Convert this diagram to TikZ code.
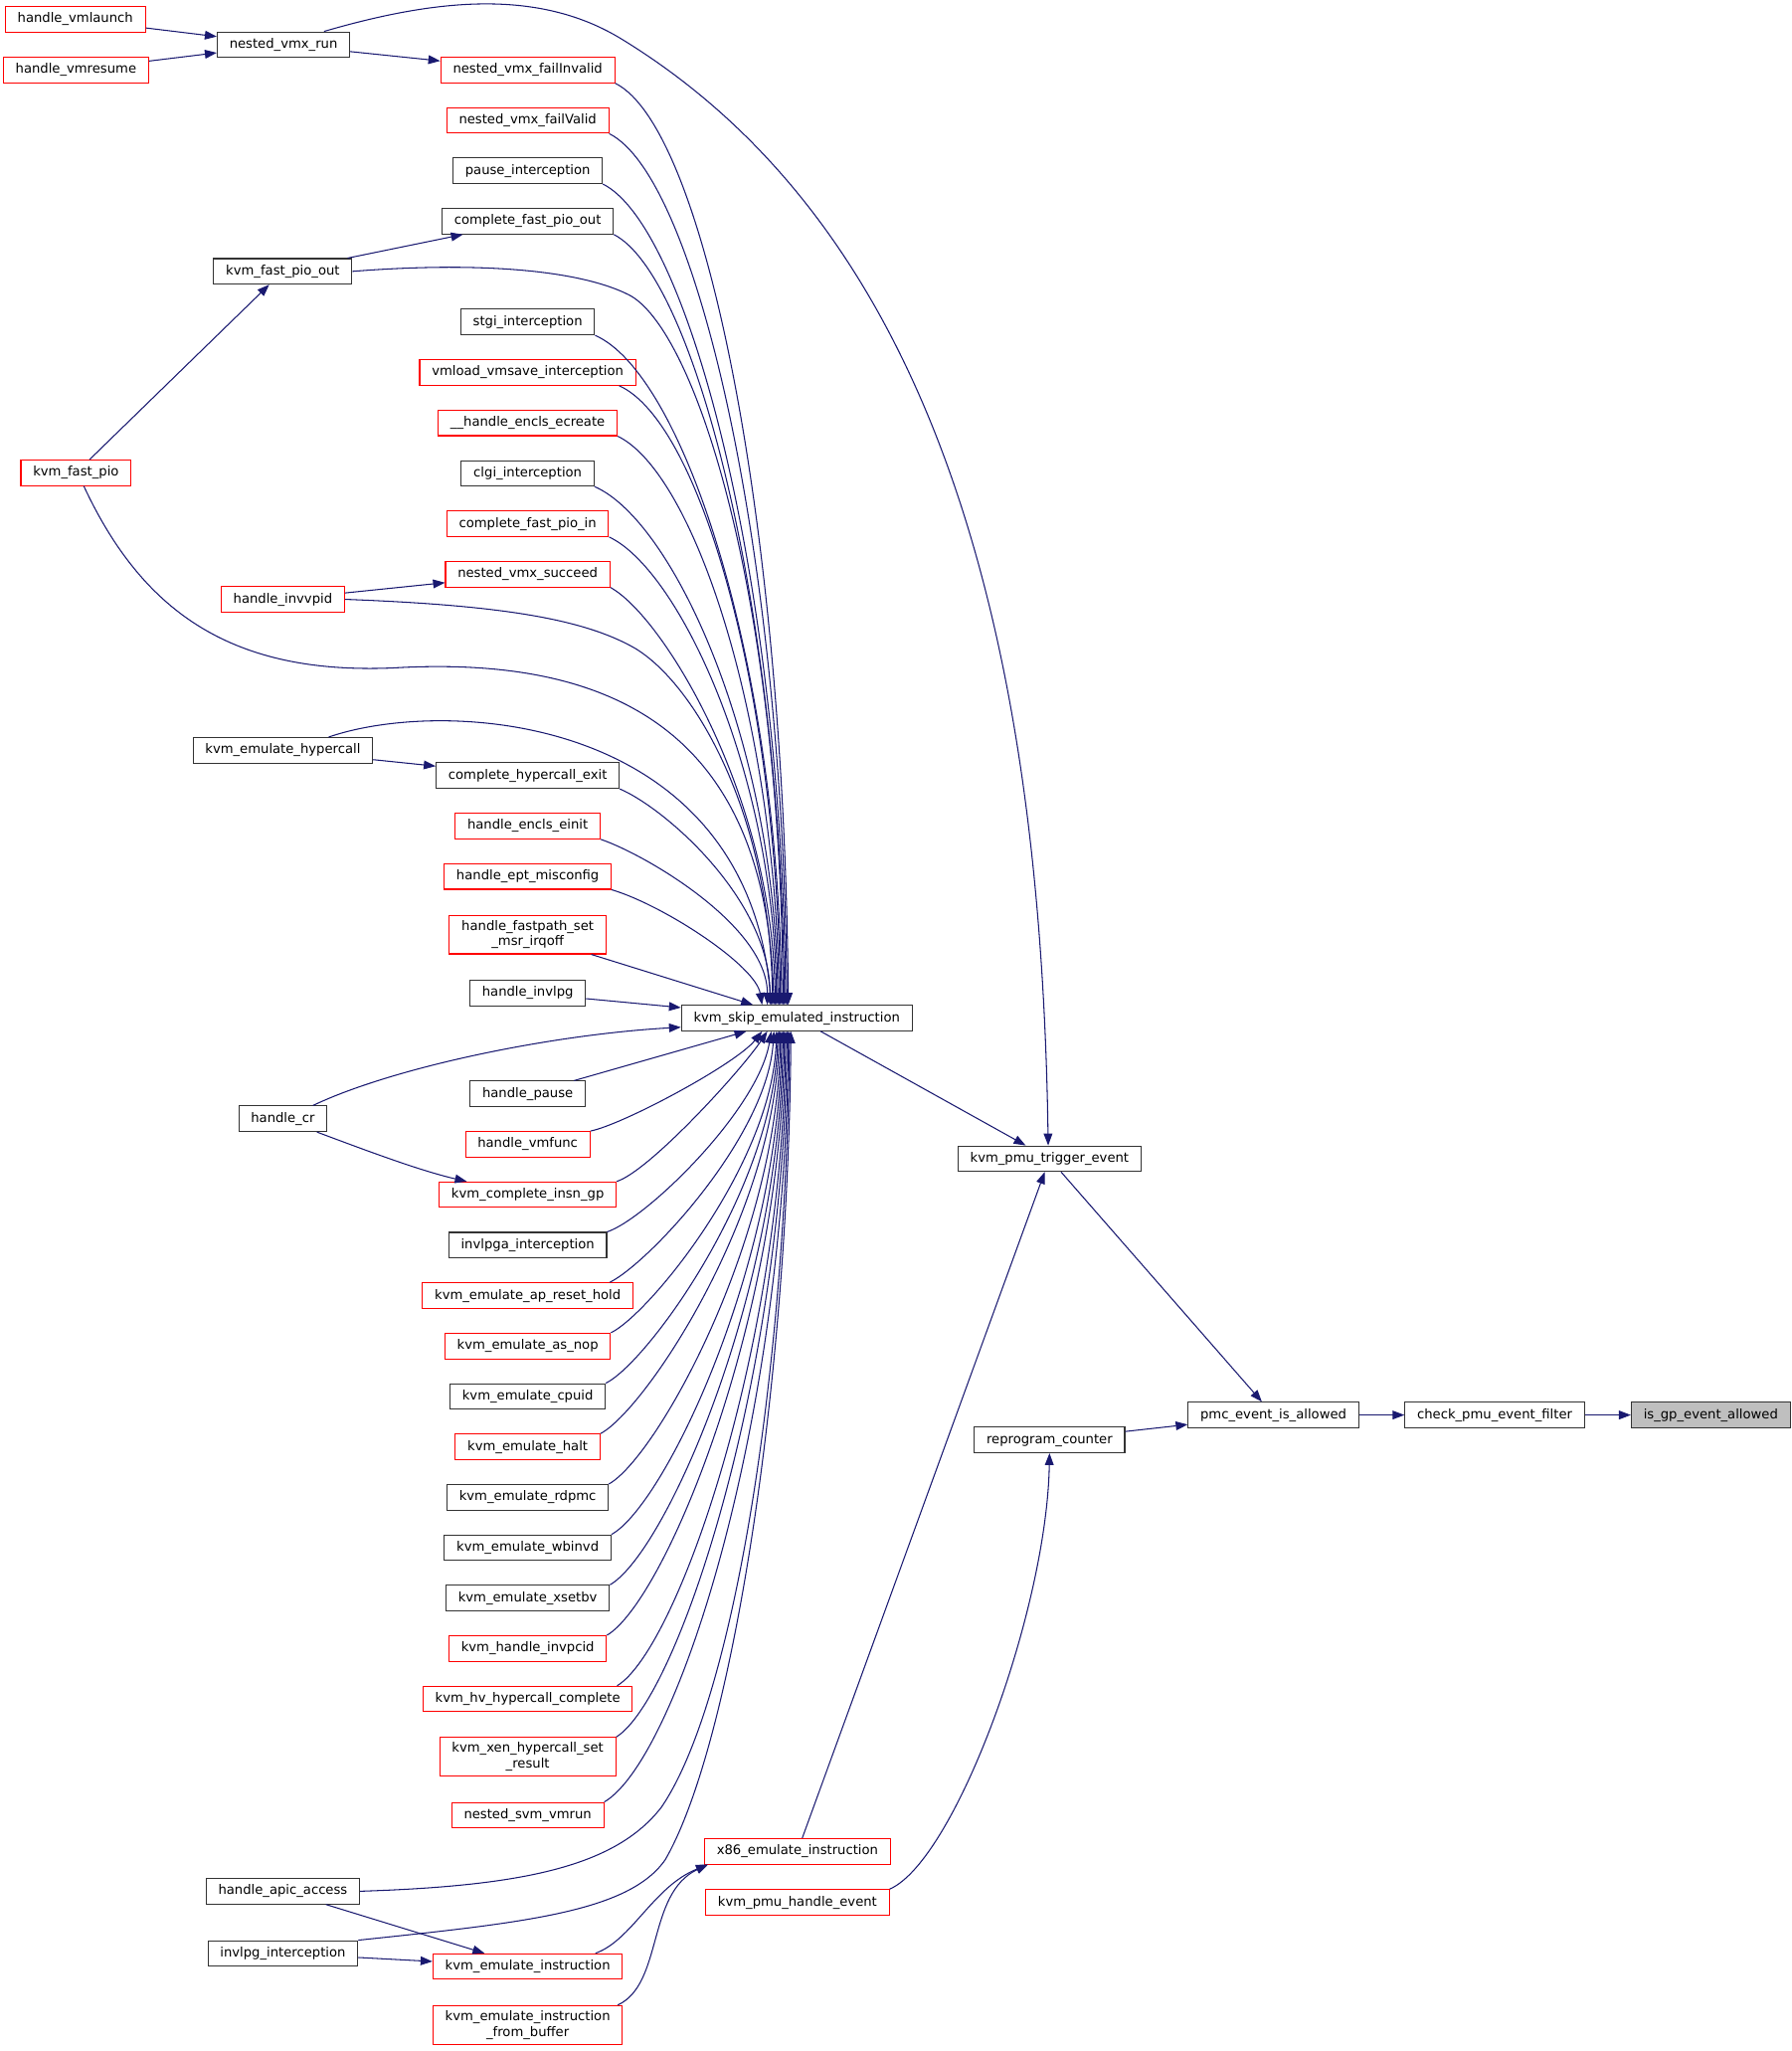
\documentclass[tikz,border=0pt]{standalone}
\usepackage{fontspec}
\setmainfont{DejaVu Sans}
\usetikzlibrary{arrows.meta,positioning,calc}
\definecolor{midnightblue}{rgb}{0.098, 0.098, 0.439}
\definecolor{rootgray}{rgb}{0.75, 0.75, 0.75}
\definecolor{darkborder}{rgb}{0.2, 0.2, 0.2}

\begin{document}
\begin{tikzpicture}[x=0.75pt,y=-0.75pt,
    fbase/.style={draw=darkborder, line width=0.6pt, font=\fontsize{7.5}{9}\selectfont, inner xsep=7pt},
    fn/.style={fbase, minimum height=14.6pt, inner ysep=0pt, text height=5.6pt, text depth=1.6pt},
    fn2/.style={fbase, align=center, inner ysep=2.8pt},
    trunc/.style={draw=red},
    root/.style={fill=rootgray},
    call/.style={midnightblue, line width=0.6pt, -{Triangle[length=6.8pt,width=5pt]}}]
            \useasboundingbox (0,0) rectangle (1368,1566);
            %
            \node[fn, trunc] (a1) at (57.5,14.8) {handle\_vmlaunch};
            \node[fn, trunc] (a2) at (58,53.4) {handle\_vmresume};
            \node[fn, trunc] (a3) at (58,361) {kvm\_fast\_pio};

            %
            \node[fn] (b1) at (216.5,34.1) {nested\_vmx\_run};
            \node[fn] (b2) at (216,207.2) {kvm\_fast\_pio\_out};
            \node[fn, trunc] (b3) at (216,457.6) {handle\_invvpid};
            \node[fn] (b4) at (216,572.9) {kvm\_emulate\_hypercall};
            \node[fn] (b5) at (216,854.2) {handle\_cr};
            \node[fn] (b6) at (216,1444) {handle\_apic\_access};
            \node[fn] (b7) at (216,1491.5) {invlpg\_interception};

            %
            \node[fn, trunc] (c1) at (403,53.4) {nested\_vmx\_failInvalid};
            \node[fn, trunc] (c2) at (403,91.9) {nested\_vmx\_failValid};
            \node[fn] (c3) at (403,130.4) {pause\_interception};
            \node[fn] (c4) at (403,168.9) {complete\_fast\_pio\_out};
            \node[fn] (c5) at (403,245.9) {stgi\_interception};
            \node[fn, trunc] (c6) at (403,284.4) {vmload\_vmsave\_interception};
            \node[fn, trunc] (c7) at (403,322.9) {\_\_handle\_encls\_ecreate};
            \node[fn] (c8) at (403,361.4) {clgi\_interception};
            \node[fn, trunc] (c9) at (403,399.9) {complete\_fast\_pio\_in};
            \node[fn, trunc] (c10) at (403,438.4) {nested\_vmx\_succeed};
            \node[fn] (c11) at (403,592.2) {complete\_hypercall\_exit};
            \node[fn, trunc] (c12) at (403,630.7) {handle\_encls\_einit};
            \node[fn, trunc] (c13) at (403,669.2) {handle\_ept\_misconfig};
            \node[fn2, trunc] (c14) at (403,713.6) {handle\_fastpath\_set\\\_msr\_irqoff};
            \node[fn] (c15) at (403,758.3) {handle\_invlpg};
            \node[fn] (c16) at (403,835.2) {handle\_pause};
            \node[fn, trunc] (c17) at (403,873.7) {handle\_vmfunc};
            \node[fn, trunc] (c18) at (403,912.2) {kvm\_complete\_insn\_gp};
            \node[fn] (c19) at (403,950.7) {invlpga\_interception};
            \node[fn, trunc] (c20) at (403,989.2) {kvm\_emulate\_ap\_reset\_hold};
            \node[fn, trunc] (c21) at (403,1027.7) {kvm\_emulate\_as\_nop};
            \node[fn] (c22) at (403,1066.2) {kvm\_emulate\_cpuid};
            \node[fn, trunc] (c23) at (403,1104.7) {kvm\_emulate\_halt};
            \node[fn] (c24) at (403,1143.2) {kvm\_emulate\_rdpmc};
            \node[fn] (c25) at (403,1181.7) {kvm\_emulate\_wbinvd};
            \node[fn] (c26) at (403,1220.2) {kvm\_emulate\_xsetbv};
            \node[fn, trunc] (c27) at (403,1258.7) {kvm\_handle\_invpcid};
            \node[fn, trunc] (c28) at (403,1297.2) {kvm\_hv\_hypercall\_complete};
            \node[fn2, trunc] (c29) at (403,1341.4) {kvm\_xen\_hypercall\_set\\\_result};
            \node[fn, trunc] (c30) at (403,1386) {nested\_svm\_vmrun};
            \node[fn, trunc] (c31) at (403,1501.5) {kvm\_emulate\_instruction};
            \node[fn2, trunc] (c32) at (403,1546) {kvm\_emulate\_instruction\\\_from\_buffer};

            %
            \node[fn] (d1) at (608.5,777.3) {kvm\_skip\_emulated\_instruction};
            \node[fn, trunc] (d2) at (609,1413.5) {x86\_emulate\_instruction};
            \node[fn, trunc] (d3) at (609,1452.5) {kvm\_pmu\_handle\_event};
            \node[fn] (e1) at (801.5,884.7) {kvm\_pmu\_trigger\_event};
            \node[fn] (e2) at (801.5,1099.4) {reprogram\_counter};
            \node[fn] (f1) at (972.5,1080.4) {pmc\_event\_is\_allowed};
            \node[fn] (g1) at (1141.5,1080.4) {check\_pmu\_event\_filter};
            \node[fn, root] (h1) at (1306.5,1080.4) {is\_gp\_event\_allowed};

            % Straight calls
            \draw[call] (a1) -- (b1);
            \draw[call] (a2) -- (b1);
            \draw[call] (b1) -- (c1);
            \draw[call] (a3) -- (b2);
            \draw[call] (b2) -- (c4);
            \draw[call] (b3) -- (c10);
            \draw[call] (b4) -- (c11);
            \draw[call] (b6) -- (c31);
            \draw[call] (b7) -- (c31);
            \draw[call] (c14) -- ($(d1.north)+(-33.5,0)$);
            \draw[call] (c15) -- ($(d1.west)+(0,-8)$);
            \draw[call] (c16) -- ($(d1.south)+(-38.5,0)$);
            \draw[call] (d1) -- (e1);
            \draw[call] (d2) -- (e1);
            \draw[call] (e1) -- (f1);
            \draw[call] (e2) -- (f1);
            \draw[call] (f1) -- (g1);
            \draw[call] (g1) -- (h1);
            \draw[call] ($(b5.south)+(26,0)$) .. controls +(40,15) and +(-35,-8) .. ($(c18.north)+(-46.5,0)$);

            % Into kvm_skip_emulated_instruction from above
            \draw[call] (c1.south east) .. controls +(70,35) and +(-3,-360) .. ($(d1.north)+(-6.5,0)$);
            \draw[call] (c2.south east) .. controls +(68,34) and +(-3,-340) .. ($(d1.north)+(-7.5,0)$);
            \draw[call] (c3.south east) .. controls +(66,33) and +(-3,-320) .. ($(d1.north)+(-8.5,0)$);
            \draw[call] (c4.south east) .. controls +(62,32) and +(-3,-300) .. ($(d1.north)+(-9.5,0)$);
            \draw[call] (b2.east) .. controls (360,200) and (440,205) .. (480,225) .. controls (530,250) and (596,450) .. ($(d1.north)+(-10.5,0)$);
            \draw[call] (c5.south east) .. controls +(68,30) and +(-3,-260) .. ($(d1.north)+(-11.5,0)$);
            \draw[call] ($(c6.south east)+(-13,0)$) .. controls +(62,28) and +(-3,-240) .. ($(d1.north)+(-12.5,0)$);
            \draw[call] (c7.south east) .. controls +(58,28) and +(-3,-220) .. ($(d1.north)+(-13.5,0)$);
            \draw[call] (c8.south east) .. controls +(60,26) and +(-2,-200) .. ($(d1.north)+(-14.5,0)$);
            \draw[call] (c9.south east) .. controls +(52,24) and +(-2,-180) .. ($(d1.north)+(-15.5,0)$);
            \draw[call] (c10.south east) .. controls +(40,22) and +(-2,-160) .. ($(d1.north)+(-16.5,0)$);
            \draw[call] ($(a3.south)+(6,0)$) .. controls (110,470) and (180,515) .. (300,510) .. controls (470,500) and (585,560) .. ($(d1.north)+(-17.5,0)$);
            \draw[call] (b3.east) .. controls (380,462) and (445,472) .. (485,495) .. controls (530,522) and (588,620) .. ($(d1.north)+(-18.5,0)$);
            \draw[call] ($(b4.north)+(35,0)$) .. controls (340,532) and (570,545) .. ($(d1.north)+(-19.5,0)$);
            \draw[call] (c11.south east) .. controls +(35,15) and +(0,-80) .. ($(d1.north)+(-20.5,0)$);
            \draw[call] (c12.south east) .. controls +(35,12) and +(0,-60) .. ($(d1.north)+(-22.5,0)$);
            \draw[call] (c13.south east) .. controls +(40,12) and +(-5,-30) .. ($(d1.north)+(-26.5,0)$);
            \draw[call] ($(b5.north)+(23,0)$) .. controls (300,815) and (420,790) .. ($(d1.west)+(0,7)$);

            % Into kvm_skip_emulated_instruction from below
            \draw[call] (c17.north east) .. controls +(25,-5) and +(-20,25) .. ($(d1.south)+(-26.5,0)$);
            \draw[call] (c18.north east) .. controls +(25,-8) and +(-20,30) .. ($(d1.south)+(-22.5,0)$);
            \draw[call] (c19.north east) .. controls +(30,-10) and +(-10,60) .. ($(d1.south)+(-19.5,0)$);
            \draw[call] ($(c20.north east)+(-18,0)$) .. controls +(30,-15) and +(-5,80) .. ($(d1.south)+(-17.5,0)$);
            \draw[call] (c21.north east) .. controls +(30,-15) and +(-3,100) .. ($(d1.south)+(-15.5,0)$);
            \draw[call] (c22.north east) .. controls +(32,-16) and +(-3,120) .. ($(d1.south)+(-14.5,0)$);
            \draw[call] (c23.north east) .. controls +(34,-18) and +(-3,140) .. ($(d1.south)+(-13.5,0)$);
            \draw[call] (c24.north east) .. controls +(36,-20) and +(-2,160) .. ($(d1.south)+(-12.5,0)$);
            \draw[call] (c25.north east) .. controls +(40,-22) and +(-2,180) .. ($(d1.south)+(-11.5,0)$);
            \draw[call] (c26.north east) .. controls +(42,-24) and +(-2,200) .. ($(d1.south)+(-10.5,0)$);
            \draw[call] (c27.north east) .. controls +(44,-26) and +(-2,220) .. ($(d1.south)+(-9.5,0)$);
            \draw[call] ($(c28.north east)+(-12,0)$) .. controls +(46,-28) and +(-2,240) .. ($(d1.south)+(-8.5,0)$);
            \draw[call] (c29.north east) .. controls +(48,-30) and +(-2,260) .. ($(d1.south)+(-7.5,0)$);
            \draw[call] (c30.north east) .. controls +(55,-32) and +(-2,300) .. ($(d1.south)+(-6.5,0)$);
            \draw[call] (b6.east) .. controls (400,1440) and (470,1425) .. (505,1380) .. controls (560,1300) and (600,1050) .. ($(d1.south)+(-5.5,0)$);
            \draw[call] (b7.north east) .. controls (400,1468) and (480,1460) .. (508,1420) .. controls (560,1330) and (602,1050) .. ($(d1.south)+(-4.5,0)$);

            % Right part
            \draw[call] ($(b1.north)+(31,0)$) .. controls (330,0) and (410,-10) .. (475,30) .. controls (720,180) and (795,500) .. ($(e1.north)+(-1,0)$);
            \draw[call] ($(c31.north east)+(-21,0)$) .. controls +(28,-10) and +(-42,17) .. ($(d2.south west)+(3,0)$);
            \draw[call] ($(c32.north east)+(-4,0)$) .. controls +(35,-16) and +(-47,22) .. ($(d2.south west)+(3,0)$);
            \draw[call] (d3.north east) .. controls +(50,-22) and +(-2,120) .. (e2.south);

        \end{tikzpicture}
\end{document}
